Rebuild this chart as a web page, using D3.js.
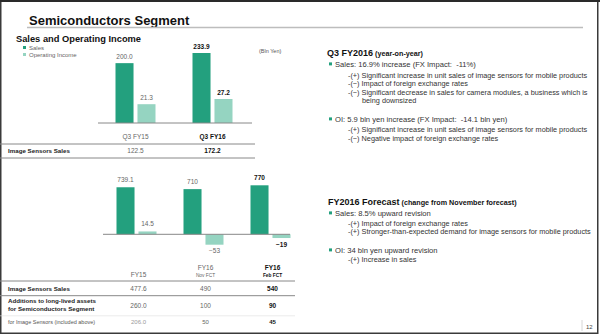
<!DOCTYPE html>
<html><head><meta charset="utf-8">
<script src="https://cdn.jsdelivr.net/npm/d3@7"></script>
<style>
html,body{margin:0;padding:0;background:#fff;}
svg{display:block;font-family:"Liberation Sans",Arial,sans-serif;}
</style></head>
<body>
<svg id="c" width="600" height="336"></svg>
<script>
// ---- data ----
const topCategories = ["Q3 FY15", "Q3 FY16"];
const topSales = [200.0, 233.9];
const topOI = [21.3, 27.2];
const topImageSensorsSales = [122.5, 172.2];
const topBold = [false, true];

const fyCategories = ["FY15", "FY16", "FY16 "];
const fySubLabels = ["", "Nov FCT", "Feb FCT"];
const fySales = [739.1, 710, 770];
const fyOI = [14.5, -53, -19];
const fyImageSensorsSales = [477.6, 490, 540];
const fyAdditions = [260.0, 100, 90];
const fyAdditionsIS = [206.0, 50, 45];
const fyBold = [false, false, true];
const seriesNames = ["Sales", "Operating Income"];

const fmt1 = d3.format(".1f");
const fmtTop = v => fmt1(v);
const fmtFy = (v, i) => i === 0 ? fmt1(v) : d3.format("d")(v);

const C_SALES = "#23a07e", C_OI = "#95d4c1";
const svg = d3.select("#c");

// frame
svg.append("rect").attr("x",0.75).attr("y",0.75).attr("width",597).attr("height",332.5)
  .attr("fill","none").attr("stroke","#3a3a3a").attr("stroke-width",1.5);
svg.append("line").attr("x1",0).attr("x2",600).attr("y1",1).attr("y2",1).attr("stroke","#2a2a2a").attr("stroke-width",2);

// title
svg.append("text").attr("x",29).attr("y",24.5).attr("font-size",13).attr("font-weight","bold").attr("fill","#111")
  .text("Semiconductors Segment");
svg.append("line").attr("x1",27).attr("x2",583).attr("y1",27.5).attr("y2",27.5).attr("stroke","#bdbdbd").attr("stroke-width",1.6);
svg.append("text").attr("x",16).attr("y",41.5).attr("font-size",9.3).attr("font-weight","bold").attr("fill","#111")
  .text("Sales and Operating Income");

// legend
const leg = svg.append("g");
[C_SALES, C_OI].forEach((c,i)=>{
  leg.append("rect").attr("x",23).attr("y",46+i*7).attr("width",3).attr("height",3).attr("fill",c);
  leg.append("text").attr("x",29).attr("y",49.5+i*7).attr("font-size",6).attr("fill","#666").text(seriesNames[i]);
});
svg.append("text").attr("x",259).attr("y",52.5).attr("font-size",5.5).attr("fill","#555").text("(Bln Yen)");

// ---- top chart ----
const xTop = d3.scaleBand().domain(topCategories).range([97,251]).padding(0);
const xIn = d3.scaleBand().domain(["s","o"]).range([-20,20]).paddingInner(0.18);
const yTopS = d3.scaleLinear().domain([0,233.9]).range([123,53]);
const yTopO = d3.scaleLinear().domain([0,27.2]).range([123,99]);
const gTop = svg.append("g");
topCategories.forEach((cat,i)=>{
  const cx = xTop(cat)+xTop.bandwidth()/2;
  const bold = topBold[i];
  const col = bold ? "#111" : "#666";
  gTop.append("rect").attr("x",cx+xIn("s")).attr("width",xIn.bandwidth())
    .attr("y",yTopS(topSales[i])).attr("height",yTopS(0)-yTopS(topSales[i])).attr("fill",C_SALES);
  gTop.append("rect").attr("x",cx+xIn("o")).attr("width",xIn.bandwidth())
    .attr("y",yTopO(topOI[i])).attr("height",yTopO(0)-yTopO(topOI[i])).attr("fill",C_OI);
  gTop.append("text").attr("x",cx+xIn("s")+xIn.bandwidth()/2).attr("y",yTopS(topSales[i])-4)
    .attr("text-anchor","middle").attr("font-size",6.5).attr("font-weight",bold?"bold":"normal").attr("fill",col).text(fmtTop(topSales[i]));
  gTop.append("text").attr("x",cx+xIn("o")+xIn.bandwidth()/2).attr("y",yTopO(topOI[i])-4)
    .attr("text-anchor","middle").attr("font-size",6.5).attr("font-weight",bold?"bold":"normal").attr("fill",col).text(fmtTop(topOI[i]));
  gTop.append("text").attr("x",cx).attr("y",139).attr("text-anchor","middle").attr("font-size",6.5)
    .attr("font-weight",bold?"bold":"normal").attr("fill",col).text(cat);
  gTop.append("text").attr("x",cx).attr("y",153.3).attr("text-anchor","middle").attr("font-size",6.5)
    .attr("font-weight",bold?"bold":"normal").attr("fill",col).text(fmtTop(topImageSensorsSales[i]));
});
gTop.append("line").attr("x1",98).attr("x2",252).attr("y1",yTopS(0)).attr("y2",yTopS(0)).attr("stroke","#888").attr("stroke-width",1);
gTop.append("line").attr("x1",0).attr("x2",255).attr("y1",144).attr("y2",144).attr("stroke","#888").attr("stroke-width",1);
gTop.append("line").attr("x1",0).attr("x2",255).attr("y1",158).attr("y2",158).attr("stroke","#888").attr("stroke-width",1);
gTop.append("text").attr("x",8).attr("y",153.3).attr("font-size",6.2).attr("font-weight","bold").attr("fill","#222").text("Image Sensors Sales");

// ---- bottom chart ----
const xFy = d3.scaleBand().domain(fyCategories).range([103,304]).padding(0);
const yFyS = d3.scaleLinear().domain([0,770]).range([234.3,185.3]);
const yFyO = d3.scaleLinear().domain([-53,0]).range([244.7,234.3]);
const gB = svg.append("g");
fyCategories.forEach((cat,i)=>{
  const cx = xFy(cat)+xFy.bandwidth()/2;
  const bold = fyBold[i];
  const col = bold ? "#111" : "#666";
  const fw = bold ? "bold" : "normal";
  gB.append("rect").attr("x",cx+xIn("s")).attr("width",xIn.bandwidth())
    .attr("y",yFyS(fySales[i])).attr("height",yFyS(0)-yFyS(fySales[i])).attr("fill",C_SALES);
  const o = fyOI[i];
  gB.append("rect").attr("x",cx+xIn("o")).attr("width",xIn.bandwidth())
    .attr("y",Math.min(yFyO(o),yFyO(0))).attr("height",Math.abs(yFyO(o)-yFyO(0))).attr("fill",C_OI);
  gB.append("text").attr("x",cx+xIn("s")+xIn.bandwidth()/2).attr("y",yFyS(fySales[i])-5.5)
    .attr("text-anchor","middle").attr("font-size",6.5).attr("font-weight",fw).attr("fill",col).text(fmtFy(fySales[i],i));
  gB.append("text").attr("x",cx+xIn("o")+xIn.bandwidth()/2).attr("y",o>=0 ? yFyO(o)-5 : yFyO(o)+8.5)
    .attr("text-anchor","middle").attr("font-size",6.5).attr("font-weight",fw).attr("fill",col).text(fmtFy(o,i));
  const lx = cx + 2;
  if (fySubLabels[i]) {
    gB.append("text").attr("x",lx).attr("y",270).attr("text-anchor","middle").attr("font-size",6.5).attr("font-weight",fw).attr("fill",col).text(cat.trim());
    gB.append("text").attr("x",lx).attr("y",277.3).attr("text-anchor","middle").attr("font-size",4.8).attr("font-weight",fw).attr("fill",col).text(fySubLabels[i]);
  } else {
    gB.append("text").attr("x",lx).attr("y",277.3).attr("text-anchor","middle").attr("font-size",6.5).attr("font-weight",fw).attr("fill",col).text(cat.trim());
  }
  gB.append("text").attr("x",lx).attr("y",290.7).attr("text-anchor","middle").attr("font-size",6.5).attr("font-weight",fw).attr("fill",col).text(fmtFy(fyImageSensorsSales[i],i));
  gB.append("text").attr("x",lx).attr("y",307.5).attr("text-anchor","middle").attr("font-size",6.5).attr("font-weight",fw).attr("fill",col).text(fmtFy(fyAdditions[i],i));
  gB.append("text").attr("x",lx).attr("y",324.2).attr("text-anchor","middle").attr("font-size",6).attr("font-weight",fw).attr("fill",bold?"#111":(i===0?"#999":"#666")).text(fmtFy(fyAdditionsIS[i],i));
});
gB.append("line").attr("x1",103).attr("x2",290).attr("y1",yFyS(0)).attr("y2",yFyS(0)).attr("stroke","#888").attr("stroke-width",1);
[281,295.7].forEach(y=>gB.append("line").attr("x1",0).attr("x2",295).attr("y1",y).attr("y2",y).attr("stroke","#888").attr("stroke-width",1));
gB.append("line").attr("x1",0).attr("x2",295).attr("y1",315.8).attr("y2",315.8).attr("stroke","#ddd").attr("stroke-width",0.6);
gB.append("text").attr("x",8).attr("y",290.7).attr("font-size",6.2).attr("font-weight","bold").attr("fill","#222").text("Image Sensors Sales");
gB.append("text").attr("x",8).attr("y",302.7).attr("font-size",6.2).attr("font-weight","bold").attr("fill","#222").text("Additions to long-lived assets");
gB.append("text").attr("x",8).attr("y",311).attr("font-size",6.2).attr("font-weight","bold").attr("fill","#222").text("for Semiconductors Segment");
gB.append("text").attr("x",8).attr("y",324.2).attr("font-size",5.5).attr("fill","#555").text("for Image Sensors (included above)");

// ---- right side text ----
const R = svg.append("g").attr("fill","#333");
function heading(x,y,main,sub){
  const t = R.append("text").attr("x",x).attr("y",y).attr("font-weight","bold").attr("fill","#111");
  t.append("tspan").attr("font-size",9).text(main);
  t.append("tspan").attr("font-size",7.2).text(" "+sub);
}
function bullet(y,txt){
  R.append("rect").attr("x",329).attr("y",y-4.3).attr("width",3).attr("height",3).attr("fill",C_SALES);
  R.append("text").attr("x",335).attr("y",y).attr("font-size",7.6).attr("xml:space","preserve").style("white-space","pre").text(txt);
}
function sub(y,txt,x){
  R.append("text").attr("x",x||348).attr("y",y).attr("font-size",7.3).text(txt);
}
heading(327,56,"Q3 FY2016","(year-on-year)");
bullet(66.7,"Sales: 16.9% increase (FX Impact:  -11%)");
sub(77.7,"-(+) Significant increase in unit sales of image sensors for mobile products");
sub(85.6,"-(−) Impact of foreign exchange rates");
sub(94.7,"-(−) Significant decrease in sales for camera modules, a business which is");
sub(102.7,"being downsized",362);
bullet(121.7,"OI: 5.9 bln yen increase (FX Impact:  -14.1 bln yen)");
sub(132.3,"-(+) Significant increase in unit sales of image sensors for mobile products");
sub(141,"-(−) Negative impact of foreign exchange rates");

heading(328,205.3,"FY2016 Forecast","(change from November forecast)");
bullet(215.7,"Sales: 8.5% upward revision");
sub(225.7,"-(+) Impact of foreign exchange rates");
sub(234,"-(+) Stronger-than-expected demand for image sensors for mobile products");
bullet(252.7,"OI: 34 bln yen upward revision");
sub(262.3,"-(+) Increase in sales");

svg.append("line").attr("x1",582).attr("x2",582).attr("y1",320).attr("y2",331).attr("stroke","#ccc").attr("stroke-width",0.8);
svg.append("text").attr("x",586).attr("y",328.5).attr("font-size",6).attr("fill","#444").text("12");
</script>
</body></html>
